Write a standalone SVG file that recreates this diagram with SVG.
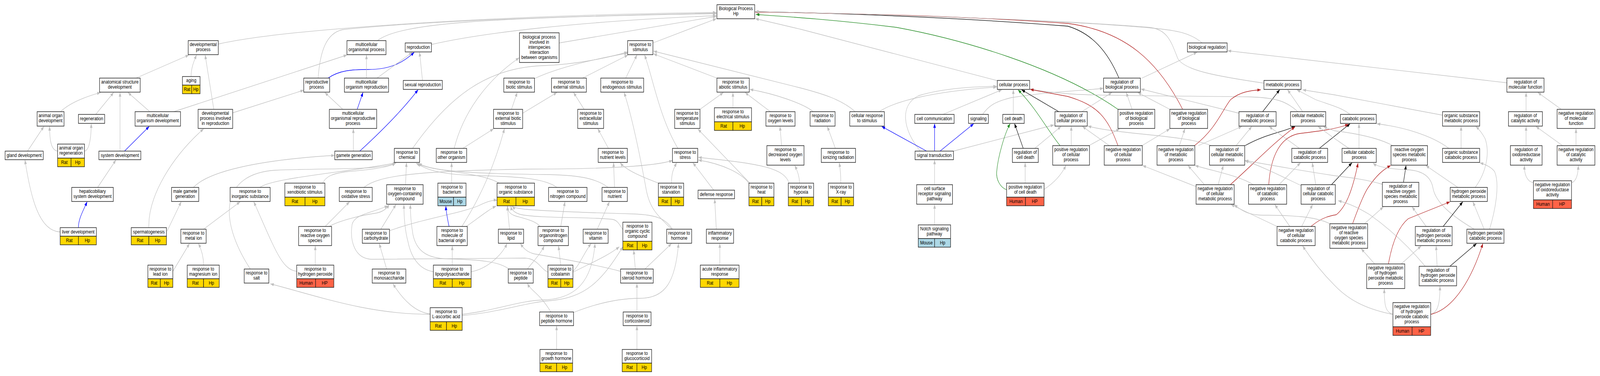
<svg xmlns="http://www.w3.org/2000/svg" width="4999" height="963" viewBox="0 0 4999 963" preserveAspectRatio="none">
<style>
svg{width:100vw;height:100vh}
.n rect{fill:#fff;stroke:#222;stroke-width:1.5}
.n rect.y{fill:#ffd700}
.n rect.m{fill:#add8e6}
.n rect.h{fill:#ff6347}
text{font-family:"Liberation Sans",Arial,sans-serif;font-size:13px;text-anchor:middle;fill:#000}
#edges path{fill:none;stroke-width:1.3}
#edges .g{stroke:#c0c0c0;marker-end:url(#ag)}
#edges .b{stroke:#0000ff;marker-end:url(#ab)}
#edges .gr{stroke:#228b22;marker-end:url(#agr)}
#edges .r{stroke:#b22222;marker-end:url(#ar)}
#edges .k{stroke:#000;marker-end:url(#ak)}
</style>
<defs>
<marker id="ag" markerUnits="userSpaceOnUse" markerWidth="11" markerHeight="8" refX="10.5" refY="4" orient="auto"><path d="M0,0 L11,4 L0,8 z" fill="#c0c0c0"/></marker>
<marker id="ab" markerUnits="userSpaceOnUse" markerWidth="11" markerHeight="8" refX="10.5" refY="4" orient="auto"><path d="M0,0 L11,4 L0,8 z" fill="#0000ff"/></marker>
<marker id="agr" markerUnits="userSpaceOnUse" markerWidth="11" markerHeight="8" refX="10.5" refY="4" orient="auto"><path d="M0,0 L11,4 L0,8 z" fill="#228b22"/></marker>
<marker id="ar" markerUnits="userSpaceOnUse" markerWidth="11" markerHeight="8" refX="10.5" refY="4" orient="auto"><path d="M0,0 L11,4 L0,8 z" fill="#b22222"/></marker>
<marker id="ak" markerUnits="userSpaceOnUse" markerWidth="11" markerHeight="8" refX="10.5" refY="4" orient="auto"><path d="M0,0 L11,4 L0,8 z" fill="#000"/></marker>
</defs>
<rect x="0" y="0" width="4999" height="963" fill="#fff"/>
<g id="edges">
<path class="g" d="M682,113 C900,72 1600,38 2238,32"/>
<path class="g" d="M425,200 L590,141"/>
<path class="g" d="M597,196 C597,175 605,158 614,141"/>
<path class="g" d="M668,280 L641,141"/>
<path class="g" d="M189,286 C220,262 270,247 314,237"/>
<path class="g" d="M299,293 L355,237"/>
<path class="g" d="M375,387 L375,237"/>
<path class="g" d="M468,286 L400,237"/>
<path class="g" d="M543,286 L1084,141"/>
<path class="g" d="M727,289 L949,231"/>
<path class="g" d="M86,387 L137,324"/>
<path class="g" d="M180,387 C160,385 155,360 155,324"/>
<path class="g" d="M264,387 C282,385 285,340 285,317"/>
<path class="b" d="M389,387 L466,324"/>
<path class="g" d="M188,594 C120,592 95,500 78,410"/>
<path class="g" d="M305,480 L362,410"/>
<path class="b" d="M245,583 C245,560 260,540 272,517"/>
<path class="g" d="M465,583 C462,500 540,400 636,330"/>
<path class="g" d="M604,480 C650,440 800,410 1045,398"/>
<path class="g" d="M522,592 L566,517"/>
<path class="g" d="M782,689 C680,560 690,445 860,436 C1050,430 1200,436 1236,417"/>
<path class="g" d="M812,480 C850,455 1100,440 1238,417"/>
<path class="g" d="M636,587 L750,517"/>
<path class="g" d="M927,695 C880,690 860,640 793,517"/>
<path class="g" d="M540,695 L592,624"/>
<path class="g" d="M636,679 C636,660 630,640 620,624"/>
<path class="g" d="M1179,104 C1250,60 1500,45 2238,35"/>
<path class="g" d="M1348,114 C1500,85 1800,55 2238,40"/>
<path class="g" d="M994,200 C1000,130 1020,85 1070,76 C1300,55 1800,40 2238,34"/>
<path class="b" d="M1025,200 C1060,180 1100,178 1150,178 C1220,178 1260,160 1294,134"/>
<path class="g" d="M1178,200 L1288,134"/>
<path class="g" d="M1145,200 L1145,141"/>
<path class="g" d="M1320,206 L1311,134"/>
<path class="g" d="M1071,280 L1015,237"/>
<path class="b" d="M1116,280 L1134,237"/>
<path class="g" d="M1104,387 L1104,330"/>
<path class="b" d="M1124,387 C1180,345 1250,290 1306,230"/>
<path class="g" d="M1747,110 L2238,42"/>
<path class="g" d="M1419,380 C1450,280 1530,200 1622,148"/>
<path class="g" d="M1289,380 C1400,250 1520,172 1700,168 C1800,165 1900,148 1961,133"/>
<path class="g" d="M1668,202 C1750,170 1880,148 1961,136"/>
<path class="g" d="M1598,280 L1616,237"/>
<path class="g" d="M1633,290 L1740,237"/>
<path class="g" d="M1446,380 L1542,330"/>
<path class="g" d="M1411,469 L1411,417"/>
<path class="g" d="M1443,580 C1490,520 1540,440 1576,330"/>
<path class="g" d="M2040,110 L2238,48"/>
<path class="g" d="M1820,200 L1962,141"/>
<path class="g" d="M1955,200 L1990,141"/>
<path class="g" d="M2240,200 L2042,138"/>
<path class="g" d="M1825,280 L1792,237"/>
<path class="g" d="M1901,380 L1868,330"/>
<path class="g" d="M2187,280 L2260,237"/>
<path class="g" d="M2290,276 L2290,237"/>
<path class="g" d="M2407,286 L2328,237"/>
<path class="g" d="M2541,286 C2510,265 2420,240 2343,229"/>
<path class="g" d="M2672,286 C2630,255 2570,240 2500,225 L2042,131"/>
<path class="g" d="M2442,373 L2437,324"/>
<path class="g" d="M2498,469 C2498,450 2490,435 2483,424"/>
<path class="g" d="M2343,469 L2181,331"/>
<path class="g" d="M2340,470 C2320,445 2260,420 2182,410"/>
<path class="g" d="M2466,470 C2450,430 2380,420 2182,403"/>
<path class="g" d="M2118,380 C2060,300 2040,200 2014,141"/>
<path class="g" d="M2060,470 C2030,460 1960,440 1938,417"/>
<path class="g" d="M2098,469 C2098,440 2106,430 2114,417"/>
<path class="g" d="M2230,487 L2165,417"/>
<path class="g" d="M2610,380 L2585,324"/>
<path class="g" d="M2627,469 C2627,450 2625,430 2622,417"/>
<path class="g" d="M1137,480 C1180,450 1300,437 1668,433 C1900,433 2050,425 2101,411"/>
<path class="g" d="M1920,480 L1917,417"/>
<path class="g" d="M1900,480 C1860,455 1800,448 1700,447 C1500,445 1350,440 1308,418"/>
<path class="g" d="M1740,480 C1700,455 1600,452 1500,450 C1400,448 1330,438 1305,418"/>
<path class="g" d="M1560,469 C1500,440 1350,440 1300,418"/>
<path class="g" d="M1267,473 L1270,417"/>
<path class="g" d="M1008,469 C1020,450 1040,445 1080,440 C1150,435 1210,430 1236,418"/>
<path class="g" d="M1016,580 L1092,517"/>
<path class="g" d="M1028,580 C1063,564 1132,551 1174,546 C1195,543 1208,535 1216,524"/>
<path class="g" d="M1190,587 L1237,524"/>
<path class="g" d="M1217,591 C1320,560 1450,545 1500,525 C1525,515 1540,512 1553,513"/>
<path class="b" d="M1403,580 C1398,560 1394,545 1393,528"/>
<path class="g" d="M1457,580 C1500,555 1530,535 1550,528"/>
<path class="g" d="M1592,587 L1585,528"/>
<path class="g" d="M985,679 L985,630"/>
<path class="g" d="M1208,689 L1185,624"/>
<path class="g" d="M1413,679 L1413,630"/>
<path class="g" d="M1472,696 C1526,688 1570,650 1584,624"/>
<path class="g" d="M1354,696 C1310,690 1285,660 1275,620 C1265,590 1262,560 1262,524"/>
<path class="g" d="M1712,697 C1690,690 1680,662 1640,661 L1160,664 C1110,662 1092,620 1100,575 C1108,548 1160,546 1212,527"/>
<path class="g" d="M1590,689 C1560,670 1500,665 1400,663 C1330,662 1300,640 1290,600 C1284,570 1282,545 1282,524"/>
<path class="g" d="M1344,804 C1300,800 1260,770 1228,727"/>
<path class="g" d="M1344,805 C1150,805 1000,760 845,727"/>
<path class="g" d="M1444,805 C1550,795 1620,770 1700,768 C1800,765 1850,720 1859,624"/>
<path class="g" d="M1444,808 C1560,800 1640,775 1720,770 C1830,762 1880,720 1946,632"/>
<path class="g" d="M1752,580 L1765,517"/>
<path class="g" d="M1687,580 C1675,566 1640,560 1610,553 C1592,548 1586,540 1586,528"/>
<path class="g" d="M1866,587 L1904,517"/>
<path class="g" d="M1946,588 C1935,575 1930,565 1915,562 C1850,555 1680,560 1625,549 C1605,544 1598,536 1596,528"/>
<path class="g" d="M2099,587 C2050,550 2030,530 2020,490 C2000,400 1975,300 1950,237"/>
<path class="g" d="M2101,587 C2080,560 2050,550 1980,548 C1850,545 1700,540 1640,536 C1615,533 1605,532 1600,528"/>
<path class="g" d="M1790,695 C1810,680 1830,640 1847,624"/>
<path class="g" d="M1791,697 C1850,672 1900,655 1935,632"/>
<path class="g" d="M1752,679 L1745,630"/>
<path class="g" d="M1985,689 L1980,641"/>
<path class="g" d="M2015,689 L2098,624"/>
<path class="g" d="M1939,695 C1850,675 1720,658 1668,650 C1645,645 1635,635 1626,624"/>
<path class="g" d="M1721,799 C1700,770 1680,755 1668,746 C1660,740 1652,733 1648,726"/>
<path class="g" d="M1793,800 C1870,775 1940,764 2000,764 C2080,764 2110,720 2120,624"/>
<path class="g" d="M1990,799 L1990,726"/>
<path class="g" d="M1739,895 L1739,835"/>
<path class="g" d="M1990,895 L1990,835"/>
<path class="g" d="M1648,689 C1660,675 1690,650 1700,630"/>
<path class="g" d="M2238,587 L2233,510"/>
<path class="g" d="M2249,679 L2249,624"/>
<path class="g" d="M3118,207 L2502,75 C2450,65 2400,55 2360,48"/>
<path class="g" d="M2747,286 C2790,262 2900,235 3114,223"/>
<path class="g" d="M2875,387 C2820,330 2810,270 2870,245 C2950,225 3050,222 3114,221"/>
<path class="g" d="M2946,293 L3130,230"/>
<path class="g" d="M3070,293 C3090,270 3110,260 3160,250 C3300,232 3400,232 3447,226"/>
<path class="g" d="M3166,293 L3166,230"/>
<path class="k" d="M3308,286 L3192,230"/>
<path class="g" d="M3380,286 L3474,237"/>
<path class="b" d="M2895,387 L2755,324"/>
<path class="b" d="M2920,387 L2920,317"/>
<path class="b" d="M2937,387 L3042,317"/>
<path class="g" d="M2979,387 L3293,320"/>
<path class="k" d="M3197,380 L3170,317"/>
<path class="g" d="M3233,380 L3315,324"/>
<path class="gr" d="M3312,373 C3270,330 3240,280 3181,230"/>
<path class="g" d="M3347,373 L3347,324"/>
<path class="g" d="M3402,373 L3498,330"/>
<path class="gr" d="M3145,486 C3125,480 3112,460 3114,440 C3118,400 3140,340 3156,317"/>
<path class="g" d="M3203,469 L3203,417"/>
<path class="g" d="M3262,485 C3290,470 3315,450 3330,424"/>
<path class="g" d="M2920,473 L2920,410"/>
<path class="g" d="M2920,576 L2920,524"/>
<path class="g" d="M3756,110 C3720,85 3680,78 3600,72 C3300,50 2700,35 2360,30"/>
<path class="g" d="M3568,200 L3740,134"/>
<path class="k" d="M3496,200 C3460,130 3410,85 3336,67 C3000,45 2600,33 2360,30"/>
<path class="g" d="M3537,280 L3519,237"/>
<path class="gr" d="M3493,280 C3300,170 3000,100 2800,70 C2600,50 2450,42 2362,37"/>
<path class="g" d="M3655,280 L3555,237"/>
<path class="r" d="M3695,280 C3620,160 3520,80 3336,60 C3000,40 2600,33 2360,31"/>
<path class="k" d="M3945,286 L3998,230"/>
<path class="g" d="M3871,290 L3565,228"/>
<path class="g" d="M4070,286 L4023,230"/>
<path class="g" d="M4055,286 C4020,260 3990,250 3900,248 C3600,245 3400,245 3336,240 C3280,236 3240,232 3218,228"/>
<path class="g" d="M3785,373 C3700,345 3500,345 3399,323"/>
<path class="g" d="M3466,373 L3382,324"/>
<path class="g" d="M3568,373 L3655,330"/>
<path class="r" d="M3493,373 C3460,300 3430,270 3336,247 L3219,229"/>
<path class="g" d="M3685,373 L3702,330"/>
<path class="r" d="M3732,373 C3800,330 3820,280 3845,255 C3875,235 3905,232 3939,230"/>
<path class="g" d="M3744,373 L3880,324"/>
<path class="g" d="M3862,373 L3911,324"/>
<path class="k" d="M3890,373 C3950,345 4000,340 4046,324"/>
<path class="g" d="M4060,380 L3965,324"/>
<path class="k" d="M4122,380 L4218,317"/>
<path class="g" d="M3949,213 C3800,195 3700,180 3680,150 C3660,110 3650,75 3590,70 C3300,50 2700,35 2360,30"/>
<path class="g" d="M4218,293 C4190,275 4160,270 4110,255 L4052,230"/>
<path class="g" d="M4507,295 L4170,243 L4070,230"/>
<path class="g" d="M3763,473 L3712,424"/>
<path class="g" d="M3806,473 L3822,424"/>
<path class="g" d="M3737,478 L3570,424"/>
<path class="r" d="M3844,473 C3920,417 3980,365 4046,325"/>
<path class="g" d="M3916,473 C3870,450 3800,440 3734,424"/>
<path class="g" d="M3996,473 L4063,417"/>
<path class="r" d="M3964,473 C3970,400 4000,350 4060,342 C4120,336 4180,330 4213,318"/>
<path class="g" d="M4111,473 L4100,417"/>
<path class="k" d="M4160,473 L4224,417"/>
<path class="g" d="M4067,476 C4000,450 3940,425 3890,412"/>
<path class="g" d="M3990,580 L3846,524"/>
<path class="g" d="M4030,580 L3983,524"/>
<path class="g" d="M4067,580 L4101,524"/>
<path class="r" d="M4096,580 C4130,556 4160,552 4175,550 C4205,530 4225,490 4243,418"/>
<path class="g" d="M4263,573 L4322,530"/>
<path class="r" d="M4226,573 C4245,530 4262,495 4275,480 C4300,450 4320,435 4345,424"/>
<path class="g" d="M4155,573 C4100,550 4000,552 3940,551 C3900,550 3880,540 3856,524"/>
<path class="k" d="M4385,467 L4393,424"/>
<path class="g" d="M4319,472 C4270,460 4220,455 4170,450 C4050,435 3950,420 3890,411"/>
<path class="g" d="M4352,373 C4300,350 4220,340 4170,335 L4135,325"/>
<path class="g" d="M4215,380 C4195,370 4180,360 4170,355 L4118,324"/>
<path class="g" d="M4246,380 L4246,317"/>
<path class="g" d="M4565,380 L4565,324"/>
<path class="g" d="M4527,380 C4470,345 4380,325 4302,317"/>
<path class="g" d="M4555,480 L4455,424"/>
<path class="g" d="M4609,480 C4645,440 4655,390 4640,355 C4630,340 4620,330 4611,324"/>
<path class="g" d="M4637,587 L4602,517"/>
<path class="g" d="M4654,587 C4675,530 4685,470 4670,440 C4660,428 4640,421 4624,417"/>
<path class="g" d="M4606,587 C4540,555 4485,520 4477,481 C4470,450 4440,437 4400,435 C4340,433 4305,428 4290,418"/>
<path class="k" d="M4509,580 L4570,517"/>
<path class="g" d="M4456,580 L4412,530"/>
<path class="g" d="M4490,682 L4487,630"/>
<path class="k" d="M4530,682 L4613,624"/>
<path class="g" d="M4453,682 C4400,630 4340,585 4280,550 C4230,525 4200,518 4181,514"/>
<path class="g" d="M4295,676 L4253,637"/>
<path class="g" d="M4378,676 L4440,630"/>
<path class="r" d="M4338,676 C4350,620 4370,580 4400,560 L4530,517"/>
<path class="g" d="M4352,805 C4328,800 4325,780 4325,740"/>
<path class="g" d="M4470,805 C4495,800 4499,770 4499,733"/>
<path class="r" d="M4471,805 C4545,790 4600,710 4633,624"/>
<path class="g" d="M4350,805 C4260,790 4210,765 4170,731 C4120,690 4090,655 4070,630"/>
<path class="g" d="M4708,212 L3836,130"/>
<path class="g" d="M4768,286 L4768,237"/>
<path class="g" d="M4878,280 L4805,237"/>
<path class="g" d="M4768,373 L4768,324"/>
<path class="g" d="M4882,373 L4799,324"/>
<path class="g" d="M4924,373 L4924,330"/>
<path class="g" d="M4791,468 C4770,465 4762,445 4763,424"/>
<path class="g" d="M4910,468 C4925,465 4931,445 4931,424"/>
</g>
<g id="n_bp" class="n"><rect x="2240" y="12" width="118" height="36"/><text x="2299" y="26.5"><tspan x="2299">Biological Process</tspan><tspan x="2299" dy="13">Hp</tspan></text></g>
<g id="n_devp" class="n"><rect x="588" y="104" width="94" height="36"/><text x="635" y="118.5"><tspan x="635">developmental</tspan><tspan x="635" dy="13">process</tspan></text></g>
<g id="n_aging" class="n"><rect x="570" y="196" width="55" height="22"/><text x="597.5" y="210.5">aging</text><rect class="y" x="570" y="218" width="29" height="22"/><rect class="y" x="599" y="218" width="26" height="22"/><text x="584.5" y="233.5">Rat</text><text x="612" y="233.5">Hp</text></g>
<g id="n_asd" class="n"><rect x="311" y="200" width="127" height="36"/><text x="374.5" y="214.5"><tspan x="374.5">anatomical structure</tspan><tspan x="374.5" dy="13">development</tspan></text></g>
<g id="n_aod" class="n"><rect x="116" y="286" width="84" height="37"/><text x="158" y="300.5"><tspan x="158">animal organ</tspan><tspan x="158" dy="13">development</tspan></text></g>
<g id="n_regen" class="n"><rect x="245" y="293" width="82" height="23"/><text x="286" y="308">regeneration</text></g>
<g id="n_mod" class="n"><rect x="422" y="286" width="142" height="37"/><text x="493" y="300.5"><tspan x="493">multicellular</tspan><tspan x="493" dy="13">organism development</tspan></text></g>
<g id="n_dpir" class="n"><rect x="619" y="280" width="108" height="49"/><text x="673" y="294.5"><tspan x="673">developmental</tspan><tspan x="673" dy="13">process involved</tspan><tspan x="673" dy="13">in reproduction</tspan></text></g>
<g id="n_gland" class="n"><rect x="16" y="387" width="119" height="22"/><text x="75.5" y="402">gland development</text></g>
<g id="n_aor" class="n"><rect x="180" y="369" width="84" height="36"/><text x="222" y="383.5"><tspan x="222">animal organ</tspan><tspan x="222" dy="13">regeneration</tspan></text><rect class="y" x="180" y="405" width="42" height="22"/><rect class="y" x="222" y="405" width="42" height="22"/><text x="201" y="420.5">Rat</text><text x="243" y="420.5">Hp</text></g>
<g id="n_sysdev" class="n"><rect x="309" y="387" width="131" height="22"/><text x="374.5" y="402">system development</text></g>
<g id="n_hsd" class="n"><rect x="224" y="480" width="130" height="36"/><text x="289" y="494.5"><tspan x="289">hepaticobiliary</tspan><tspan x="289" dy="13">system development</tspan></text></g>
<g id="n_liver" class="n"><rect x="188" y="583" width="113" height="22"/><text x="244.5" y="598">liver development</text><rect class="y" x="188" y="605" width="57" height="22"/><rect class="y" x="245" y="605" width="56" height="22"/><text x="216.5" y="620.5">Rat</text><text x="273" y="620.5">Hp</text></g>
<g id="n_mgg" class="n"><rect x="536" y="480" width="85" height="36"/><text x="578.5" y="494.5"><tspan x="578.5">male gamete</tspan><tspan x="578.5" dy="13">generation</tspan></text></g>
<g id="n_sperm" class="n"><rect x="410" y="583" width="110" height="22"/><text x="465" y="598">spermatogenesis</text><rect class="y" x="410" y="605" width="55" height="22"/><rect class="y" x="465" y="605" width="55" height="22"/><text x="437.5" y="620.5">Rat</text><text x="492.5" y="620.5">Hp</text></g>
<g id="n_rinorg" class="n"><rect x="719" y="480" width="125" height="36"/><text x="781.5" y="494.5"><tspan x="781.5">response to</tspan><tspan x="781.5" dy="13">inorganic substance</tspan></text></g>
<g id="n_metal" class="n"><rect x="565" y="587" width="79" height="36"/><text x="604.5" y="601.5"><tspan x="604.5">response to</tspan><tspan x="604.5" dy="13">metal ion</tspan></text></g>
<g id="n_lead" class="n"><rect x="462" y="679" width="78" height="35"/><text x="501" y="693"><tspan x="501">response to</tspan><tspan x="501" dy="13">lead ion</tspan></text><rect class="y" x="462" y="714" width="39" height="22"/><rect class="y" x="501" y="714" width="39" height="22"/><text x="481.5" y="729.5">Rat</text><text x="520.5" y="729.5">Hp</text></g>
<g id="n_mg" class="n"><rect x="585" y="679" width="100" height="35"/><text x="635" y="693"><tspan x="635">response to</tspan><tspan x="635" dy="13">magnesium ion</tspan></text><rect class="y" x="585" y="714" width="51" height="22"/><rect class="y" x="636" y="714" width="49" height="22"/><text x="610.5" y="729.5">Rat</text><text x="660.5" y="729.5">Hp</text></g>
<g id="n_salt" class="n"><rect x="763" y="689" width="77" height="36"/><text x="801.5" y="703.5"><tspan x="801.5">response to</tspan><tspan x="801.5" dy="13">salt</tspan></text></g>
<g id="n_mop" class="n"><rect x="1084" y="104" width="122" height="36"/><text x="1145" y="118.5"><tspan x="1145">multicellular</tspan><tspan x="1145" dy="13">organismal process</tspan></text></g>
<g id="n_repro" class="n"><rect x="1266" y="110" width="82" height="23"/><text x="1307" y="125">reproduction</text></g>
<g id="n_inter" class="n"><rect x="1623" y="84" width="124" height="76"/><text x="1685" y="99"><tspan x="1685">biological process</tspan><tspan x="1685" dy="13">involved in</tspan><tspan x="1685" dy="13">interspecies</tspan><tspan x="1685" dy="13">interaction</tspan><tspan x="1685" dy="13">between organisms</tspan></text></g>
<g id="n_rp" class="n"><rect x="949" y="200" width="81" height="36"/><text x="989.5" y="214.5"><tspan x="989.5">reproductive</tspan><tspan x="989.5" dy="13">process</tspan></text></g>
<g id="n_mor" class="n"><rect x="1076" y="200" width="138" height="36"/><text x="1145" y="214.5"><tspan x="1145">multicellular</tspan><tspan x="1145" dy="13">organism reproduction</tspan></text></g>
<g id="n_sexrep" class="n"><rect x="1260" y="206" width="122" height="23"/><text x="1321" y="221">sexual reproduction</text></g>
<g id="n_biotic" class="n"><rect x="1574" y="200" width="96" height="36"/><text x="1622" y="214.5"><tspan x="1622">response to</tspan><tspan x="1622" dy="13">biotic stimulus</tspan></text></g>
<g id="n_morp" class="n"><rect x="1029" y="280" width="148" height="49"/><text x="1103" y="294.5"><tspan x="1103">multicellular</tspan><tspan x="1103" dy="13">organismal reproductive</tspan><tspan x="1103" dy="13">process</tspan></text></g>
<g id="n_extbio" class="n"><rect x="1542" y="280" width="91" height="49"/><text x="1587.5" y="294.5"><tspan x="1587.5">response to</tspan><tspan x="1587.5" dy="13">external biotic</tspan><tspan x="1587.5" dy="13">stimulus</tspan></text></g>
<g id="n_gg" class="n"><rect x="1046" y="387" width="117" height="22"/><text x="1104.5" y="402">gamete generation</text></g>
<g id="n_chem" class="n"><rect x="1232" y="380" width="79" height="36"/><text x="1271.5" y="394.5"><tspan x="1271.5">response to</tspan><tspan x="1271.5" dy="13">chemical</tspan></text></g>
<g id="n_other" class="n"><rect x="1363" y="380" width="95" height="36"/><text x="1410.5" y="394.5"><tspan x="1410.5">response to</tspan><tspan x="1410.5" dy="13">other organism</tspan></text></g>
<g id="n_xeno" class="n"><rect x="890" y="469" width="125" height="36"/><text x="952.5" y="483.5"><tspan x="952.5">response to</tspan><tspan x="952.5" dy="13">xenobiotic stimulus</tspan></text><rect class="y" x="890" y="505" width="63" height="22"/><rect class="y" x="953" y="505" width="62" height="22"/><text x="921.5" y="520.5">Rat</text><text x="984" y="520.5">Hp</text></g>
<g id="n_oxs" class="n"><rect x="1060" y="480" width="103" height="36"/><text x="1111.5" y="494.5"><tspan x="1111.5">response to</tspan><tspan x="1111.5" dy="13">oxidative stress</tspan></text></g>
<g id="n_oxc" class="n"><rect x="1208" y="473" width="114" height="50"/><text x="1265" y="487.5"><tspan x="1265">response to</tspan><tspan x="1265" dy="13">oxygen-containing</tspan><tspan x="1265" dy="13">compound</tspan></text></g>
<g id="n_bact" class="n"><rect x="1368" y="469" width="88" height="36"/><text x="1412" y="483.5"><tspan x="1412">response to</tspan><tspan x="1412" dy="13">bacterium</tspan></text><rect class="m" x="1368" y="505" width="49" height="22"/><rect class="m" x="1417" y="505" width="39" height="22"/><text x="1392.5" y="520.5">Mouse</text><text x="1436.5" y="520.5">Hp</text></g>
<g id="n_orgs" class="n"><rect x="1553" y="469" width="117" height="36"/><text x="1611.5" y="483.5"><tspan x="1611.5">response to</tspan><tspan x="1611.5" dy="13">organic substance</tspan></text><rect class="y" x="1553" y="505" width="59" height="22"/><rect class="y" x="1612" y="505" width="58" height="22"/><text x="1582.5" y="520.5">Rat</text><text x="1641" y="520.5">Hp</text></g>
<g id="n_ros" class="n"><rect x="933" y="580" width="103" height="49"/><text x="984.5" y="594.5"><tspan x="984.5">response to</tspan><tspan x="984.5" dy="13">reactive oxygen</tspan><tspan x="984.5" dy="13">species</tspan></text></g>
<g id="n_carb" class="n"><rect x="1132" y="587" width="85" height="36"/><text x="1174.5" y="601.5"><tspan x="1174.5">response to</tspan><tspan x="1174.5" dy="13">carbohydrate</tspan></text></g>
<g id="n_mbo" class="n"><rect x="1365" y="580" width="95" height="49"/><text x="1412.5" y="594.5"><tspan x="1412.5">response to</tspan><tspan x="1412.5" dy="13">molecule of</tspan><tspan x="1412.5" dy="13">bacterial origin</tspan></text></g>
<g id="n_lipid" class="n"><rect x="1557" y="587" width="79" height="36"/><text x="1596.5" y="601.5"><tspan x="1596.5">response to</tspan><tspan x="1596.5" dy="13">lipid</tspan></text></g>
<g id="n_h2o2" class="n"><rect x="927" y="679" width="116" height="35"/><text x="985" y="693"><tspan x="985">response to</tspan><tspan x="985" dy="13">hydrogen peroxide</tspan></text><rect class="h" x="927" y="714" width="59" height="22"/><rect class="h" x="986" y="714" width="57" height="22"/><text x="956.5" y="729.5">Human</text><text x="1014.5" y="729.5">HP</text></g>
<g id="n_mono" class="n"><rect x="1163" y="689" width="105" height="36"/><text x="1215.5" y="703.5"><tspan x="1215.5">response to</tspan><tspan x="1215.5" dy="13">monosaccharide</tspan></text></g>
<g id="n_lps" class="n"><rect x="1354" y="679" width="118" height="35"/><text x="1413" y="693"><tspan x="1413">response to</tspan><tspan x="1413" dy="13">lipopolysaccharide</tspan></text><rect class="y" x="1354" y="714" width="59" height="22"/><rect class="y" x="1413" y="714" width="59" height="22"/><text x="1383.5" y="729.5">Rat</text><text x="1442.5" y="729.5">Hp</text></g>
<g id="n_pep" class="n"><rect x="1588" y="689" width="78" height="36"/><text x="1627" y="703.5"><tspan x="1627">response to</tspan><tspan x="1627" dy="13">peptide</tspan></text></g>
<g id="n_asc" class="n"><rect x="1344" y="788" width="100" height="36"/><text x="1394" y="802.5"><tspan x="1394">response to</tspan><tspan x="1394" dy="13">L-ascorbic acid</tspan></text><rect class="y" x="1344" y="824" width="51" height="22"/><rect class="y" x="1395" y="824" width="49" height="22"/><text x="1369.5" y="839.5">Rat</text><text x="1419.5" y="839.5">Hp</text></g>
<g id="n_stim" class="n"><rect x="1961" y="104" width="79" height="36"/><text x="2000.5" y="118.5"><tspan x="2000.5">response to</tspan><tspan x="2000.5" dy="13">stimulus</tspan></text></g>
<g id="n_ext" class="n"><rect x="1723" y="200" width="109" height="36"/><text x="1777.5" y="214.5"><tspan x="1777.5">response to</tspan><tspan x="1777.5" dy="13">external stimulus</tspan></text></g>
<g id="n_endo" class="n"><rect x="1877" y="200" width="134" height="36"/><text x="1944" y="214.5"><tspan x="1944">response to</tspan><tspan x="1944" dy="13">endogenous stimulus</tspan></text></g>
<g id="n_abio" class="n"><rect x="2240" y="200" width="101" height="36"/><text x="2290.5" y="214.5"><tspan x="2290.5">response to</tspan><tspan x="2290.5" dy="13">abiotic stimulus</tspan></text></g>
<g id="n_extra" class="n"><rect x="1805" y="280" width="81" height="49"/><text x="1845.5" y="294.5"><tspan x="1845.5">response to</tspan><tspan x="1845.5" dy="13">extracellular</tspan><tspan x="1845.5" dy="13">stimulus</tspan></text></g>
<g id="n_temp" class="n"><rect x="2108" y="280" width="79" height="49"/><text x="2147.5" y="294.5"><tspan x="2147.5">response to</tspan><tspan x="2147.5" dy="13">temperature</tspan><tspan x="2147.5" dy="13">stimulus</tspan></text></g>
<g id="n_elec" class="n"><rect x="2232" y="276" width="116" height="36"/><text x="2290" y="290.5"><tspan x="2290">response to</tspan><tspan x="2290" dy="13">electrical stimulus</tspan></text><rect class="y" x="2232" y="312" width="58" height="22"/><rect class="y" x="2290" y="312" width="58" height="22"/><text x="2261" y="327.5">Rat</text><text x="2319" y="327.5">Hp</text></g>
<g id="n_oxl" class="n"><rect x="2393" y="286" width="91" height="37"/><text x="2438.5" y="300.5"><tspan x="2438.5">response to</tspan><tspan x="2438.5" dy="13">oxygen levels</tspan></text></g>
<g id="n_nutl" class="n"><rect x="1869" y="380" width="91" height="36"/><text x="1914.5" y="394.5"><tspan x="1914.5">response to</tspan><tspan x="1914.5" dy="13">nutrient levels</tspan></text></g>
<g id="n_stress" class="n"><rect x="2101" y="380" width="79" height="36"/><text x="2140.5" y="394.5"><tspan x="2140.5">response to</tspan><tspan x="2140.5" dy="13">stress</tspan></text></g>
<g id="n_dox" class="n"><rect x="2396" y="373" width="116" height="50"/><text x="2454" y="387.5"><tspan x="2454">response to</tspan><tspan x="2454" dy="13">decreased oxygen</tspan><tspan x="2454" dy="13">levels</tspan></text></g>
<g id="n_nitro" class="n"><rect x="1714" y="480" width="120" height="36"/><text x="1774" y="494.5"><tspan x="1774">response to</tspan><tspan x="1774" dy="13">nitrogen compound</tspan></text></g>
<g id="n_nutr" class="n"><rect x="1881" y="480" width="79" height="36"/><text x="1920.5" y="494.5"><tspan x="1920.5">response to</tspan><tspan x="1920.5" dy="13">nutrient</tspan></text></g>
<g id="n_starv" class="n"><rect x="2057" y="469" width="79" height="36"/><text x="2096.5" y="483.5"><tspan x="2096.5">response to</tspan><tspan x="2096.5" dy="13">starvation</tspan></text><rect class="y" x="2057" y="505" width="40" height="22"/><rect class="y" x="2097" y="505" width="39" height="22"/><text x="2077" y="520.5">Rat</text><text x="2116.5" y="520.5">Hp</text></g>
<g id="n_def" class="n"><rect x="2181" y="487" width="114" height="22"/><text x="2238" y="502">defense response</text></g>
<g id="n_heat" class="n"><rect x="2340" y="469" width="78" height="36"/><text x="2379" y="483.5"><tspan x="2379">response to</tspan><tspan x="2379" dy="13">heat</tspan></text><rect class="y" x="2340" y="505" width="40" height="22"/><rect class="y" x="2380" y="505" width="38" height="22"/><text x="2360" y="520.5">Rat</text><text x="2399" y="520.5">Hp</text></g>
<g id="n_hypo" class="n"><rect x="2463" y="469" width="79" height="36"/><text x="2502.5" y="483.5"><tspan x="2502.5">response to</tspan><tspan x="2502.5" dy="13">hypoxia</tspan></text><rect class="y" x="2463" y="505" width="41" height="22"/><rect class="y" x="2504" y="505" width="38" height="22"/><text x="2483.5" y="520.5">Rat</text><text x="2523" y="520.5">Hp</text></g>
<g id="n_orgn" class="n"><rect x="1681" y="580" width="95" height="49"/><text x="1728.5" y="594.5"><tspan x="1728.5">response to</tspan><tspan x="1728.5" dy="13">organonitrogen</tspan><tspan x="1728.5" dy="13">compound</tspan></text></g>
<g id="n_vit" class="n"><rect x="1822" y="587" width="78" height="36"/><text x="1861" y="601.5"><tspan x="1861">response to</tspan><tspan x="1861" dy="13">vitamin</tspan></text></g>
<g id="n_occ" class="n"><rect x="1946" y="569" width="91" height="49"/><text x="1991.5" y="583.5"><tspan x="1991.5">response to</tspan><tspan x="1991.5" dy="13">organic cyclic</tspan><tspan x="1991.5" dy="13">compound</tspan></text><rect class="y" x="1946" y="618" width="45" height="22"/><rect class="y" x="1991" y="618" width="46" height="22"/><text x="1968.5" y="633.5">Rat</text><text x="2014" y="633.5">Hp</text></g>
<g id="n_horm" class="n"><rect x="2083" y="587" width="78" height="36"/><text x="2122" y="601.5"><tspan x="2122">response to</tspan><tspan x="2122" dy="13">hormone</tspan></text></g>
<g id="n_infl" class="n"><rect x="2207" y="587" width="85" height="36"/><text x="2249.5" y="601.5"><tspan x="2249.5">inflammatory</tspan><tspan x="2249.5" dy="13">response</tspan></text></g>
<g id="n_cob" class="n"><rect x="1712" y="679" width="78" height="35"/><text x="1751" y="693"><tspan x="1751">response to</tspan><tspan x="1751" dy="13">cobalamin</tspan></text><rect class="y" x="1712" y="714" width="40" height="22"/><rect class="y" x="1752" y="714" width="38" height="22"/><text x="1732" y="729.5">Rat</text><text x="1771" y="729.5">Hp</text></g>
<g id="n_ster" class="n"><rect x="1939" y="689" width="102" height="36"/><text x="1990" y="703.5"><tspan x="1990">response to</tspan><tspan x="1990" dy="13">steroid hormone</tspan></text></g>
<g id="n_acute" class="n"><rect x="2188" y="679" width="121" height="35"/><text x="2248.5" y="693"><tspan x="2248.5">acute inflammatory</tspan><tspan x="2248.5" dy="13">response</tspan></text><rect class="y" x="2188" y="714" width="61" height="22"/><rect class="y" x="2249" y="714" width="60" height="22"/><text x="2218.5" y="729.5">Rat</text><text x="2279" y="729.5">Hp</text></g>
<g id="n_peph" class="n"><rect x="1686" y="799" width="106" height="35"/><text x="1739" y="813"><tspan x="1739">response to</tspan><tspan x="1739" dy="13">peptide hormone</tspan></text></g>
<g id="n_cort" class="n"><rect x="1947" y="799" width="87" height="35"/><text x="1990.5" y="813"><tspan x="1990.5">response to</tspan><tspan x="1990.5" dy="13">corticosteroid</tspan></text></g>
<g id="n_gh" class="n"><rect x="1687" y="895" width="102" height="35"/><text x="1738" y="909"><tspan x="1738">response to</tspan><tspan x="1738" dy="13">growth hormone</tspan></text><rect class="y" x="1687" y="930" width="52" height="22"/><rect class="y" x="1739" y="930" width="50" height="22"/><text x="1713" y="945.5">Rat</text><text x="1764" y="945.5">Hp</text></g>
<g id="n_gluc" class="n"><rect x="1944" y="895" width="92" height="35"/><text x="1990" y="909"><tspan x="1990">response to</tspan><tspan x="1990" dy="13">glucocorticoid</tspan></text><rect class="y" x="1944" y="930" width="46" height="22"/><rect class="y" x="1990" y="930" width="46" height="22"/><text x="1967" y="945.5">Rat</text><text x="2013" y="945.5">Hp</text></g>
<g id="n_cellp" class="n"><rect x="3116" y="206" width="101" height="23"/><text x="3166.5" y="221">cellular process</text></g>
<g id="n_rad" class="n"><rect x="2531" y="286" width="78" height="37"/><text x="2570" y="300.5"><tspan x="2570">response to</tspan><tspan x="2570" dy="13">radiation</tspan></text></g>
<g id="n_crs" class="n"><rect x="2655" y="286" width="108" height="37"/><text x="2709" y="300.5"><tspan x="2709">cellular response</tspan><tspan x="2709" dy="13">to stimulus</tspan></text></g>
<g id="n_comm" class="n"><rect x="2858" y="293" width="123" height="23"/><text x="2919.5" y="308">cell communication</text></g>
<g id="n_sig" class="n"><rect x="3026" y="293" width="62" height="23"/><text x="3057" y="308">signaling</text></g>
<g id="n_death" class="n"><rect x="3133" y="293" width="67" height="23"/><text x="3166.5" y="308">cell death</text></g>
<g id="n_rcp" class="n"><rect x="3296" y="286" width="101" height="37"/><text x="3346.5" y="300.5"><tspan x="3346.5">regulation of</tspan><tspan x="3346.5" dy="13">cellular process</tspan></text></g>
<g id="n_ion" class="n"><rect x="2566" y="380" width="107" height="36"/><text x="2619.5" y="394.5"><tspan x="2619.5">response to</tspan><tspan x="2619.5" dy="13">ionizing radiation</tspan></text></g>
<g id="n_st" class="n"><rect x="2859" y="387" width="120" height="22"/><text x="2919" y="402">signal transduction</text></g>
<g id="n_rcd" class="n"><rect x="3163" y="380" width="81" height="36"/><text x="3203.5" y="394.5"><tspan x="3203.5">regulation of</tspan><tspan x="3203.5" dy="13">cell death</tspan></text></g>
<g id="n_prcp" class="n"><rect x="3289" y="373" width="115" height="50"/><text x="3346.5" y="387.5"><tspan x="3346.5">positive regulation</tspan><tspan x="3346.5" dy="13">of cellular</tspan><tspan x="3346.5" dy="13">process</tspan></text></g>
<g id="n_xray" class="n"><rect x="2588" y="469" width="79" height="36"/><text x="2627.5" y="483.5"><tspan x="2627.5">response to</tspan><tspan x="2627.5" dy="13">X-ray</tspan></text><rect class="y" x="2588" y="505" width="40" height="22"/><rect class="y" x="2628" y="505" width="39" height="22"/><text x="2608" y="520.5">Rat</text><text x="2647.5" y="520.5">Hp</text></g>
<g id="n_csr" class="n"><rect x="2864" y="473" width="112" height="50"/><text x="2920" y="487.5"><tspan x="2920">cell surface</tspan><tspan x="2920" dy="13">receptor signaling</tspan><tspan x="2920" dy="13">pathway</tspan></text></g>
<g id="n_notch" class="n"><rect x="2869" y="576" width="101" height="35"/><text x="2919.5" y="590"><tspan x="2919.5">Notch signaling</tspan><tspan x="2919.5" dy="13">pathway</tspan></text><rect class="m" x="2869" y="611" width="51" height="22"/><rect class="m" x="2920" y="611" width="50" height="22"/><text x="2894.5" y="626.5">Mouse</text><text x="2945" y="626.5">Hp</text></g>
<g id="n_prcd" class="n"><rect x="3145" y="469" width="117" height="36"/><text x="3203.5" y="483.5"><tspan x="3203.5">positive regulation</tspan><tspan x="3203.5" dy="13">of cell death</tspan></text><rect class="h" x="3145" y="505" width="59" height="22"/><rect class="h" x="3204" y="505" width="58" height="22"/><text x="3174.5" y="520.5">Human</text><text x="3233" y="520.5">HP</text></g>
<g id="n_breg" class="n"><rect x="3710" y="110" width="124" height="23"/><text x="3772" y="125">biological regulation</text></g>
<g id="n_rbp" class="n"><rect x="3448" y="200" width="115" height="36"/><text x="3505.5" y="214.5"><tspan x="3505.5">regulation of</tspan><tspan x="3505.5" dy="13">biological process</tspan></text></g>
<g id="n_metab" class="n"><rect x="3949" y="206" width="116" height="23"/><text x="4007" y="221">metabolic process</text></g>
<g id="n_prbp" class="n"><rect x="3493" y="280" width="115" height="49"/><text x="3550.5" y="294.5"><tspan x="3550.5">positive regulation</tspan><tspan x="3550.5" dy="13">of biological</tspan><tspan x="3550.5" dy="13">process</tspan></text></g>
<g id="n_nrbp" class="n"><rect x="3655" y="280" width="118" height="49"/><text x="3714" y="294.5"><tspan x="3714">negative regulation</tspan><tspan x="3714" dy="13">of biological</tspan><tspan x="3714" dy="13">process</tspan></text></g>
<g id="n_rmp" class="n"><rect x="3871" y="286" width="116" height="37"/><text x="3929" y="300.5"><tspan x="3929">regulation of</tspan><tspan x="3929" dy="13">metabolic process</tspan></text></g>
<g id="n_cmp" class="n"><rect x="4032" y="286" width="110" height="37"/><text x="4087" y="300.5"><tspan x="4087">cellular metabolic</tspan><tspan x="4087" dy="13">process</tspan></text></g>
<g id="n_nrcp" class="n"><rect x="3450" y="373" width="119" height="50"/><text x="3509.5" y="387.5"><tspan x="3509.5">negative regulation</tspan><tspan x="3509.5" dy="13">of cellular</tspan><tspan x="3509.5" dy="13">process</tspan></text></g>
<g id="n_nrmp" class="n"><rect x="3615" y="373" width="118" height="50"/><text x="3674" y="387.5"><tspan x="3674">negative regulation</tspan><tspan x="3674" dy="13">of metabolic</tspan><tspan x="3674" dy="13">process</tspan></text></g>
<g id="n_rcmp" class="n"><rect x="3779" y="373" width="110" height="50"/><text x="3834" y="387.5"><tspan x="3834">regulation of</tspan><tspan x="3834" dy="13">cellular metabolic</tspan><tspan x="3834" dy="13">process</tspan></text></g>
<g id="n_rcat" class="n"><rect x="4036" y="380" width="112" height="36"/><text x="4092" y="394.5"><tspan x="4092">regulation of</tspan><tspan x="4092" dy="13">catabolic process</tspan></text></g>
<g id="n_nrcmp" class="n"><rect x="3737" y="473" width="119" height="50"/><text x="3796.5" y="487.5"><tspan x="3796.5">negative regulation</tspan><tspan x="3796.5" dy="13">of cellular</tspan><tspan x="3796.5" dy="13">metabolic process</tspan></text></g>
<g id="n_nrcat" class="n"><rect x="3901" y="473" width="119" height="50"/><text x="3960.5" y="487.5"><tspan x="3960.5">negative regulation</tspan><tspan x="3960.5" dy="13">of catabolic</tspan><tspan x="3960.5" dy="13">process</tspan></text></g>
<g id="n_rccp" class="n"><rect x="4065" y="473" width="107" height="50"/><text x="4118.5" y="487.5"><tspan x="4118.5">regulation of</tspan><tspan x="4118.5" dy="13">cellular catabolic</tspan><tspan x="4118.5" dy="13">process</tspan></text></g>
<g id="n_nrccp" class="n"><rect x="3990" y="580" width="119" height="49"/><text x="4049.5" y="594.5"><tspan x="4049.5">negative regulation</tspan><tspan x="4049.5" dy="13">of cellular</tspan><tspan x="4049.5" dy="13">catabolic process</tspan></text></g>
<g id="n_nrros" class="n"><rect x="4155" y="573" width="118" height="63"/><text x="4214" y="587.5"><tspan x="4214">negative regulation</tspan><tspan x="4214" dy="13">of reactive</tspan><tspan x="4214" dy="13">oxygen species</tspan><tspan x="4214" dy="13">metabolic process</tspan></text></g>
<g id="n_cat" class="n"><rect x="4188" y="293" width="112" height="23"/><text x="4244" y="308">catabolic process</text></g>
<g id="n_osmp" class="n"><rect x="4507" y="286" width="116" height="37"/><text x="4565" y="300.5"><tspan x="4565">organic substance</tspan><tspan x="4565" dy="13">metabolic process</tspan></text></g>
<g id="n_rmf" class="n"><rect x="4708" y="200" width="116" height="36"/><text x="4766" y="214.5"><tspan x="4766">regulation of</tspan><tspan x="4766" dy="13">molecular function</tspan></text></g>
<g id="n_rca" class="n"><rect x="4713" y="286" width="106" height="37"/><text x="4766" y="300.5"><tspan x="4766">regulation of</tspan><tspan x="4766" dy="13">catalytic activity</tspan></text></g>
<g id="n_nrmf" class="n"><rect x="4865" y="280" width="118" height="49"/><text x="4924" y="294.5"><tspan x="4924">negative regulation</tspan><tspan x="4924" dy="13">of molecular</tspan><tspan x="4924" dy="13">function</tspan></text></g>
<g id="n_ccp" class="n"><rect x="4193" y="380" width="107" height="36"/><text x="4246.5" y="394.5"><tspan x="4246.5">cellular catabolic</tspan><tspan x="4246.5" dy="13">process</tspan></text></g>
<g id="n_rosmp" class="n"><rect x="4346" y="373" width="114" height="50"/><text x="4403" y="387.5"><tspan x="4403">reactive oxygen</tspan><tspan x="4403" dy="13">species metabolic</tspan><tspan x="4403" dy="13">process</tspan></text></g>
<g id="n_oscp" class="n"><rect x="4507" y="380" width="116" height="36"/><text x="4565" y="394.5"><tspan x="4565">organic substance</tspan><tspan x="4565" dy="13">catabolic process</tspan></text></g>
<g id="n_roa" class="n"><rect x="4719" y="373" width="99" height="50"/><text x="4768.5" y="387.5"><tspan x="4768.5">regulation of</tspan><tspan x="4768.5" dy="13">oxidoreductase</tspan><tspan x="4768.5" dy="13">activity</tspan></text></g>
<g id="n_nrca" class="n"><rect x="4865" y="373" width="118" height="50"/><text x="4924" y="387.5"><tspan x="4924">negative regulation</tspan><tspan x="4924" dy="13">of catalytic</tspan><tspan x="4924" dy="13">activity</tspan></text></g>
<g id="n_rrosmp" class="n"><rect x="4319" y="467" width="114" height="62"/><text x="4376" y="481.5"><tspan x="4376">regulation of</tspan><tspan x="4376" dy="13">reactive oxygen</tspan><tspan x="4376" dy="13">species metabolic</tspan><tspan x="4376" dy="13">process</tspan></text></g>
<g id="n_h2mp" class="n"><rect x="4531" y="480" width="116" height="36"/><text x="4589" y="494.5"><tspan x="4589">hydrogen peroxide</tspan><tspan x="4589" dy="13">metabolic process</tspan></text></g>
<g id="n_nroa" class="n"><rect x="4791" y="463" width="119" height="49"/><text x="4850.5" y="477.5"><tspan x="4850.5">negative regulation</tspan><tspan x="4850.5" dy="13">of oxidoreductase</tspan><tspan x="4850.5" dy="13">activity</tspan></text><rect class="h" x="4791" y="512" width="60" height="22"/><rect class="h" x="4851" y="512" width="59" height="22"/><text x="4821" y="527.5">Human</text><text x="4880.5" y="527.5">HP</text></g>
<g id="n_rh2mp" class="n"><rect x="4422" y="580" width="115" height="49"/><text x="4479.5" y="594.5"><tspan x="4479.5">regulation of</tspan><tspan x="4479.5" dy="13">hydrogen peroxide</tspan><tspan x="4479.5" dy="13">metabolic process</tspan></text></g>
<g id="n_h2cp" class="n"><rect x="4583" y="587" width="116" height="36"/><text x="4641" y="601.5"><tspan x="4641">hydrogen peroxide</tspan><tspan x="4641" dy="13">catabolic process</tspan></text></g>
<g id="n_nrh2mp" class="n"><rect x="4270" y="676" width="119" height="63"/><text x="4329.5" y="690.5"><tspan x="4329.5">negative regulation</tspan><tspan x="4329.5" dy="13">of hydrogen</tspan><tspan x="4329.5" dy="13">peroxide metabolic</tspan><tspan x="4329.5" dy="13">process</tspan></text></g>
<g id="n_rh2cp" class="n"><rect x="4434" y="682" width="117" height="50"/><text x="4492.5" y="696.5"><tspan x="4492.5">regulation of</tspan><tspan x="4492.5" dy="13">hydrogen peroxide</tspan><tspan x="4492.5" dy="13">catabolic process</tspan></text></g>
<g id="n_nrh2cp" class="n"><rect x="4352" y="775" width="118" height="62"/><text x="4411" y="789.5"><tspan x="4411">negative regulation</tspan><tspan x="4411" dy="13">of hydrogen</tspan><tspan x="4411" dy="13">peroxide catabolic</tspan><tspan x="4411" dy="13">process</tspan></text><rect class="h" x="4352" y="837" width="60" height="22"/><rect class="h" x="4412" y="837" width="58" height="22"/><text x="4382" y="852.5">Human</text><text x="4441" y="852.5">HP</text></g>
</svg>
